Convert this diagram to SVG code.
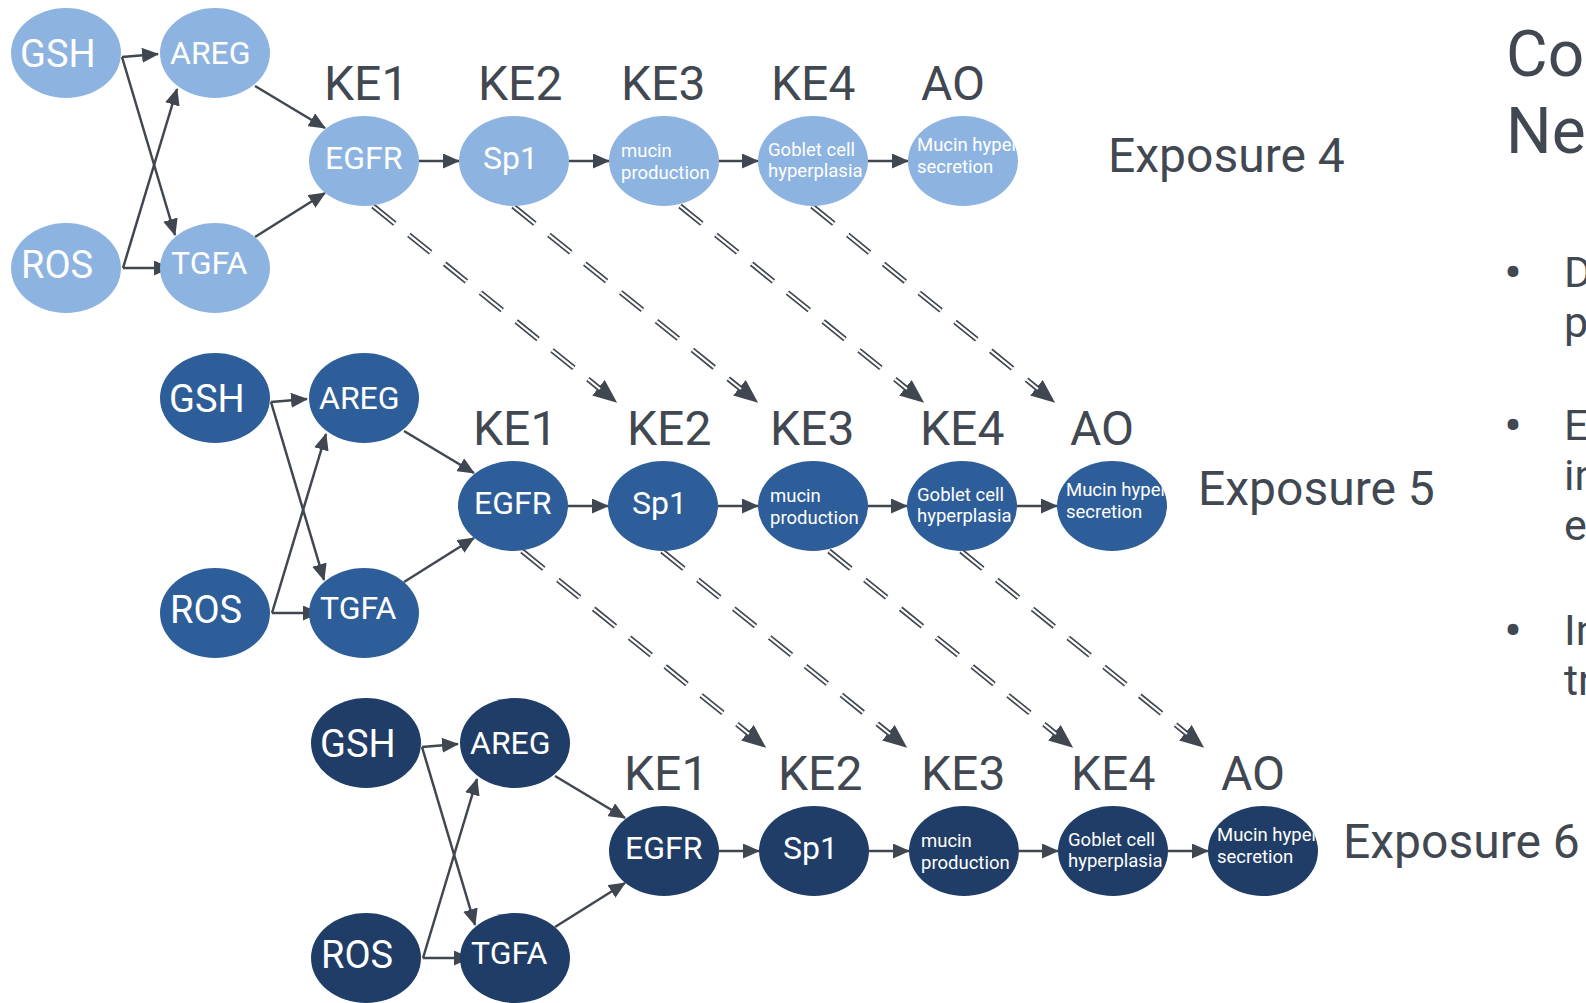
<svg xmlns="http://www.w3.org/2000/svg" width="1586" height="1003" viewBox="0 0 1586 1003">
<style>
.n1{fill:#8DB3E0}
.n2{fill:#2E5E99}
.n3{fill:#1F3D66}
.t{font-family:Roboto,"Liberation Sans",sans-serif;fill:#fff}
.big{font-size:38px}
.mid{font-size:32px}
.sm{font-size:18.5px}
.lbl{font-family:Roboto,"Liberation Sans",sans-serif;fill:#414852;font-size:48px}
.title{font-family:Roboto,"Liberation Sans",sans-serif;fill:#414852;font-size:64px}
.body{font-family:Roboto,"Liberation Sans",sans-serif;fill:#414852;font-size:43px}
.bul{stroke:#414852;stroke-width:2.2}
.arr{fill:none;stroke:#404750;stroke-width:2.5;marker-end:url(#ah)}
.dd{fill:none;stroke:#404750;stroke-width:5.5;stroke-dasharray:28 18;marker-end:url(#dh)}
.dw{fill:none;stroke:#fff;stroke-width:2.2;stroke-dasharray:28 18}
</style>
<defs>
<marker id="ah" markerUnits="userSpaceOnUse" viewBox="0 0 17 15" markerWidth="17" markerHeight="15" refX="16" refY="7.5" orient="auto"><path d="M0,0 L17,7.5 L0,15 z" fill="#404750"/></marker>
<marker id="dh" markerUnits="userSpaceOnUse" viewBox="0 0 24 20" markerWidth="24" markerHeight="20" refX="2" refY="10" orient="auto"><path d="M0,0 L24,10 L0,20 z" fill="#404750"/></marker>
<clipPath id="c1"><ellipse cx="963" cy="161" rx="55" ry="45"/></clipPath>
<clipPath id="c2"><ellipse cx="963" cy="161" rx="55" ry="45"/></clipPath>
<clipPath id="c3"><ellipse cx="963" cy="161" rx="55" ry="45"/></clipPath>
</defs>

<g id="connectors">
  <g transform="translate(0,0)">
    <path class="arr" d="M122,57 L158,54"/>
    <path class="arr" d="M122,57 L175,235"/>
    <path class="arr" d="M123,268 L177,89"/>
    <path class="arr" d="M123,268 L170,268"/>
    <path class="arr" d="M255,86 L325,128"/>
    <path class="arr" d="M255,237 L325,193"/>
    <path class="arr" d="M419,161 L459,161"/>
    <path class="arr" d="M569,161 L609,161"/>
    <path class="arr" d="M719,161 L758,161"/>
    <path class="arr" d="M868,161 L908,161"/>
    <path class="dd" d="M373,206 L600,389"/><path class="dw" d="M373,206 L600,389"/>
    <path class="dd" d="M513,206 L741,389"/><path class="dw" d="M513,206 L741,389"/>
    <path class="dd" d="M680,206 L907,389"/><path class="dw" d="M680,206 L907,389"/>
    <path class="dd" d="M812,206 L1038,389"/><path class="dw" d="M812,206 L1038,389"/>
  </g>
  <g transform="translate(149,345)">
    <path class="arr" d="M122,57 L158,54"/>
    <path class="arr" d="M122,57 L175,235"/>
    <path class="arr" d="M123,268 L177,89"/>
    <path class="arr" d="M123,268 L170,268"/>
    <path class="arr" d="M255,86 L325,128"/>
    <path class="arr" d="M255,237 L325,193"/>
    <path class="arr" d="M419,161 L459,161"/>
    <path class="arr" d="M569,161 L609,161"/>
    <path class="arr" d="M719,161 L758,161"/>
    <path class="arr" d="M868,161 L908,161"/>
    <path class="dd" d="M373,206 L600,389"/><path class="dw" d="M373,206 L600,389"/>
    <path class="dd" d="M513,206 L741,389"/><path class="dw" d="M513,206 L741,389"/>
    <path class="dd" d="M680,206 L907,389"/><path class="dw" d="M680,206 L907,389"/>
    <path class="dd" d="M812,206 L1038,389"/><path class="dw" d="M812,206 L1038,389"/>
  </g>
  <g transform="translate(300,690)">
    <path class="arr" d="M122,57 L158,54"/>
    <path class="arr" d="M122,57 L175,235"/>
    <path class="arr" d="M123,268 L177,89"/>
    <path class="arr" d="M123,268 L170,268"/>
    <path class="arr" d="M255,86 L325,128"/>
    <path class="arr" d="M255,237 L325,193"/>
    <path class="arr" d="M419,161 L459,161"/>
    <path class="arr" d="M569,161 L609,161"/>
    <path class="arr" d="M719,161 L758,161"/>
    <path class="arr" d="M868,161 L908,161"/>
  </g>
</g>

<g id="row1" transform="translate(0,0)">
  <g id="gsh1"><ellipse class="n1" cx="66" cy="53" rx="55" ry="45"/><text class="t big" x="20" y="67">GSH</text></g>
  <g id="areg1"><ellipse class="n1" cx="215" cy="53" rx="55" ry="45"/><text class="t mid" x="170" y="64">AREG</text></g>
  <g id="ros1"><ellipse class="n1" cx="66" cy="268" rx="55" ry="45"/><text class="t big" x="21" y="278">ROS</text></g>
  <g id="tgfa1"><ellipse class="n1" cx="215" cy="268" rx="55" ry="45"/><text class="t mid" x="171" y="274">TGFA</text></g>
  <g id="egfr1"><ellipse class="n1" cx="364" cy="161" rx="55" ry="45"/><text class="t mid" x="325" y="169">EGFR</text></g>
  <g id="sp1_1"><ellipse class="n1" cx="514" cy="161" rx="55" ry="45"/><text class="t mid" x="483" y="169">Sp1</text></g>
  <g id="mucin1"><ellipse class="n1" cx="664" cy="161" rx="55" ry="45"/><text class="t sm" x="621" y="157">mucin</text><text class="t sm" x="621" y="179">production</text></g>
  <g id="goblet1"><ellipse class="n1" cx="813" cy="161" rx="55" ry="45"/><text class="t sm" x="768" y="156">Goblet cell</text><text class="t sm" x="768" y="177">hyperplasia</text></g>
  <g id="ao1"><ellipse class="n1" cx="963" cy="161" rx="55" ry="45"/><g clip-path="url(#c1)"><text class="t sm" x="917" y="151">Mucin hyper</text><text class="t sm" x="917" y="173">secretion</text></g></g>
  <g id="labels1">
    <text class="lbl" x="324" y="100">KE1</text>
    <text class="lbl" x="478" y="100">KE2</text>
    <text class="lbl" x="621" y="100">KE3</text>
    <text class="lbl" x="771" y="100">KE4</text>
    <text class="lbl" x="921" y="100">AO</text>
  </g>
</g>

<g id="row2" transform="translate(149,345)">
  <g id="gsh2"><ellipse class="n2" cx="66" cy="53" rx="55" ry="45"/><text class="t big" x="20" y="67">GSH</text></g>
  <g id="areg2"><ellipse class="n2" cx="215" cy="53" rx="55" ry="45"/><text class="t mid" x="170" y="64">AREG</text></g>
  <g id="ros2"><ellipse class="n2" cx="66" cy="268" rx="55" ry="45"/><text class="t big" x="21" y="278">ROS</text></g>
  <g id="tgfa2"><ellipse class="n2" cx="215" cy="268" rx="55" ry="45"/><text class="t mid" x="171" y="274">TGFA</text></g>
  <g id="egfr2"><ellipse class="n2" cx="364" cy="161" rx="55" ry="45"/><text class="t mid" x="325" y="169">EGFR</text></g>
  <g id="sp1_2"><ellipse class="n2" cx="514" cy="161" rx="55" ry="45"/><text class="t mid" x="483" y="169">Sp1</text></g>
  <g id="mucin2"><ellipse class="n2" cx="664" cy="161" rx="55" ry="45"/><text class="t sm" x="621" y="157">mucin</text><text class="t sm" x="621" y="179">production</text></g>
  <g id="goblet2"><ellipse class="n2" cx="813" cy="161" rx="55" ry="45"/><text class="t sm" x="768" y="156">Goblet cell</text><text class="t sm" x="768" y="177">hyperplasia</text></g>
  <g id="ao2"><ellipse class="n2" cx="963" cy="161" rx="55" ry="45"/><g clip-path="url(#c2)"><text class="t sm" x="917" y="151">Mucin hyper</text><text class="t sm" x="917" y="173">secretion</text></g></g>
  <g id="labels2">
    <text class="lbl" x="324" y="100">KE1</text>
    <text class="lbl" x="478" y="100">KE2</text>
    <text class="lbl" x="621" y="100">KE3</text>
    <text class="lbl" x="771" y="100">KE4</text>
    <text class="lbl" x="921" y="100">AO</text>
  </g>
</g>

<g id="row3" transform="translate(300,690)">
  <g id="gsh3"><ellipse class="n3" cx="66" cy="53" rx="55" ry="45"/><text class="t big" x="20" y="67">GSH</text></g>
  <g id="areg3"><ellipse class="n3" cx="215" cy="53" rx="55" ry="45"/><text class="t mid" x="170" y="64">AREG</text></g>
  <g id="ros3"><ellipse class="n3" cx="66" cy="268" rx="55" ry="45"/><text class="t big" x="21" y="278">ROS</text></g>
  <g id="tgfa3"><ellipse class="n3" cx="215" cy="268" rx="55" ry="45"/><text class="t mid" x="171" y="274">TGFA</text></g>
  <g id="egfr3"><ellipse class="n3" cx="364" cy="161" rx="55" ry="45"/><text class="t mid" x="325" y="169">EGFR</text></g>
  <g id="sp1_3"><ellipse class="n3" cx="514" cy="161" rx="55" ry="45"/><text class="t mid" x="483" y="169">Sp1</text></g>
  <g id="mucin3"><ellipse class="n3" cx="664" cy="161" rx="55" ry="45"/><text class="t sm" x="621" y="157">mucin</text><text class="t sm" x="621" y="179">production</text></g>
  <g id="goblet3"><ellipse class="n3" cx="813" cy="161" rx="55" ry="45"/><text class="t sm" x="768" y="156">Goblet cell</text><text class="t sm" x="768" y="177">hyperplasia</text></g>
  <g id="ao3"><ellipse class="n3" cx="963" cy="161" rx="55" ry="45"/><g clip-path="url(#c3)"><text class="t sm" x="917" y="151">Mucin hyper</text><text class="t sm" x="917" y="173">secretion</text></g></g>
  <g id="labels3">
    <text class="lbl" x="324" y="100">KE1</text>
    <text class="lbl" x="478" y="100">KE2</text>
    <text class="lbl" x="621" y="100">KE3</text>
    <text class="lbl" x="771" y="100">KE4</text>
    <text class="lbl" x="921" y="100">AO</text>
  </g>
</g>

<g id="exposures">
  <text class="lbl" x="1108" y="172">Exposure 4</text>
  <text class="lbl" x="1198" y="505">Exposure 5</text>
  <text class="lbl" x="1343" y="858">Exposure 6</text>
</g>

<g id="side-text">
  <text class="title" x="1506" y="76">Co</text>
  <text class="title" x="1506" y="153">Ne</text>
  <text class="body bul" x="1513" y="287" text-anchor="middle">•</text>
  <text class="body" x="1564" y="287">D</text>
  <text class="body" x="1564" y="337">p</text>
  <text class="body bul" x="1513" y="440" text-anchor="middle">•</text>
  <text class="body" x="1564" y="440">E</text>
  <text class="body" x="1564" y="490">in</text>
  <text class="body" x="1564" y="540">e</text>
  <text class="body bul" x="1513" y="645" text-anchor="middle">•</text>
  <text class="body" x="1564" y="645">In</text>
  <text class="body" x="1564" y="695">tr</text>
</g>
</svg>
